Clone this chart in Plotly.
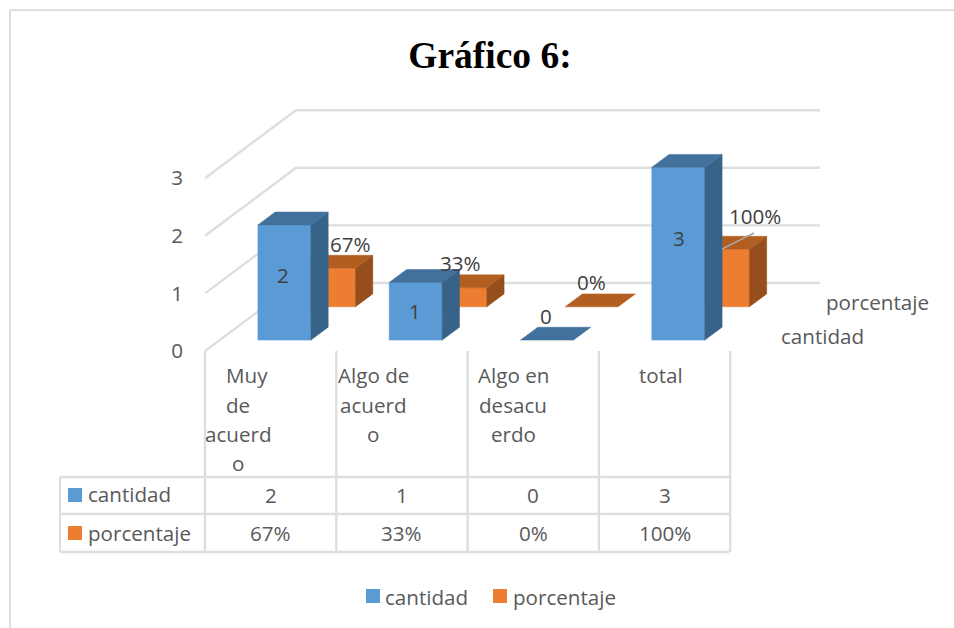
import plotly.graph_objects as go

# ---------- data ----------
categories = [["Muy", "de", "acuerd", "o"], ["Algo de", "acuerd", "o"], ["Algo en", "desacu", "erdo"], ["total"]]
series_names = ["cantidad", "porcentaje"]
cantidad = [2, 1, 0, 3]
porcentaje = [0.67, 0.33, 0.0, 1.0]
cantidad_text = ["2", "1", "0", "3"]
porcentaje_text = ["67%", "33%", "0%", "100%"]
y_ticks = [0, 1, 2, 3]
title_text = "Gráfico 6:"

# ---------- geometry / style (oblique projection of the 3-D column chart) ----------
W, H = 954, 628
X0, CAT_W = 205.0, 131.3      # front-floor origin, category width
Y0, UNIT = 351.0, 57.6        # pixel of value 0 on front plane, pixels per unit
DEPTH_X, DEPTH_Y = 91.0, 68.0 # wall offset
BAR_W = 53.0
BAR_SHIFT = -0.8 / 131.3
RIGHT = 820.0
ROWS = {"cantidad": (0.16, 0.35), "porcentaje": (0.65, 0.84)}
COL = {"cantidad": ("#5B9BD5", "#41719C", "#386388"), "porcentaje": ("#ED7D31", "#B25E21", "#964F1C")}
GRID = "#DEDEDE"
TXT = "#595959"
LBL = "#404040"
FONT = "Open Sans"
FS = 20.6


def px(cat_pos, depth):
    return X0 + CAT_W * cat_pos + DEPTH_X * depth


def vy(value, depth):
    return value + DEPTH_Y * depth / UNIT


def to_val(p):
    return (Y0 - p) / UNIT


fig = go.Figure()


def poly(xs, ys, color):
    fig.add_trace(go.Scatter(x=xs + xs[:1], y=ys + ys[:1], mode="lines", fill="toself",
                             fillcolor=color, line=dict(color=color, width=0.5),
                             hoverinfo="skip", showlegend=False))


def bar(i, value, name):
    d0, d1 = ROWS[name]
    front, top, side = COL[name]
    half = BAR_W / 2 / CAT_W
    a, b = i + 0.5 - half + BAR_SHIFT, i + 0.5 + half + BAR_SHIFT
    if value > 0:
        poly([px(a, d0), px(b, d0), px(b, d0), px(a, d0)], [vy(0, d0), vy(0, d0), vy(value, d0), vy(value, d0)], front)
        poly([px(b, d0), px(b, d1), px(b, d1), px(b, d0)], [vy(0, d0), vy(0, d1), vy(value, d1), vy(value, d0)], side)
    poly([px(a, d0), px(b, d0), px(b, d1), px(a, d1)], [vy(value, d0), vy(value, d0), vy(value, d1), vy(value, d1)], top)


# gridlines on the side and back walls
for t in y_ticks:
    fig.add_trace(go.Scatter(x=[X0, X0 + DEPTH_X, RIGHT], y=[vy(t, 0), vy(t, 1), vy(t, 1)], mode="lines",
                             line=dict(color=GRID, width=2.4), hoverinfo="skip", showlegend=False))

for i, v in enumerate(porcentaje):
    bar(i, v, "porcentaje")
for i, v in enumerate(cantidad):
    bar(i, v, "cantidad")

# leader line of the 100% label
fig.add_trace(go.Scatter(x=[722, 754], y=[to_val(249), to_val(233)], mode="lines",
                         line=dict(color="#A6A6A6", width=1.5), hoverinfo="skip", showlegend=False))

# swatches (data table and legend)
for (x, y, name) in [(75, 495, "cantidad"), (75, 533, "porcentaje"), (373, 596, "cantidad"), (500, 596, "porcentaje")]:
    fig.add_trace(go.Scatter(x=[x], y=[to_val(y)], mode="markers",
                             marker=dict(symbol="square", size=14, color=COL[name][0], line=dict(width=0)),
                             hoverinfo="skip", showlegend=False))

anns = []


def label(x, y, text, anchor="center", color=TXT, size=FS):
    anns.append(dict(x=x / W, y=1 - y / H, xref="paper", yref="paper", text=text, showarrow=False,
                     xanchor=anchor, yanchor="middle", borderpad=0,
                     font=dict(family=FONT, size=size, color=color)))


# category labels
cat_x = [[247, 238, 238, 238], [373, 373, 373], [513, 513, 513], [661]]
cat_y = [375, 405, 434, 463]
for lines, xs in zip(categories, cat_x):
    for line, x, y in zip(lines, xs, cat_y):
        label(x, y, line)

# data table
for i in range(4):
    cx = X0 + CAT_W * (i + 0.5)
    label(cx, 495, cantidad_text[i])
    label(cx, 533, porcentaje_text[i])
label(87, 494, series_names[0], "left")
label(87, 533, series_names[1], "left")

# legend text
label(384, 597, series_names[0], "left")
label(512, 597, series_names[1], "left")

# depth-axis labels
label(825, 302, series_names[1], "left")
label(780, 336, series_names[0], "left")

# data labels
for t, (x, y) in zip(cantidad_text, [(283, 275), (415, 311), (546, 316), (679, 238)]):
    label(x, y, t, color=LBL)
for t, (x, y) in zip(porcentaje_text, [(350, 244), (460, 263), (591, 282), (755, 216)]):
    label(x, y, t, color=LBL)

# table rules and frame
shapes = []


def rule(x0, y0, x1, y1, width=2):
    shapes.append(dict(type="line", xref="paper", yref="paper", x0=x0 / W, x1=x1 / W,
                       y0=1 - y0 / H, y1=1 - y1 / H, line=dict(color=GRID, width=width)))


for k in range(5):
    x = X0 + CAT_W * k
    rule(x, Y0, x, 552, 2.4)
rule(60, 477, 729, 477, 2.4)
rule(60, 514, 729, 514, 2.4)
rule(60, 552, 729, 552, 2.4)
rule(60, 477, 60, 552)
rule(10, 10, 10, 628)
rule(10, 10, W, 10)

fig.update_layout(
    width=W, height=H, margin=dict(l=0, r=0, t=0, b=0),
    paper_bgcolor="white", plot_bgcolor="white", showlegend=False, hovermode=False,
    title=dict(text="<b>" + title_text + "</b>", x=490 / W, xanchor="center", y=1 - 55 / H, yanchor="middle",
               font=dict(family="Liberation Serif", size=37.5, color="black")),
    xaxis=dict(range=[0, W], visible=False, fixedrange=True),
    yaxis=dict(range=[to_val(H), to_val(0)], tickmode="array", tickvals=y_ticks,
               ticktext=[str(t) for t in y_ticks], showgrid=False, zeroline=False, showline=False,
               ticks="", anchor="free", position=183 / W, side="left", fixedrange=True,
               tickfont=dict(family=FONT, size=FS, color=TXT)),
    annotations=anns, shapes=shapes,
)

fig.write_html("out.html", config=dict(displayModeBar=False),
               post_script="document.body.style.margin='0';document.body.style.overflow='hidden';")
